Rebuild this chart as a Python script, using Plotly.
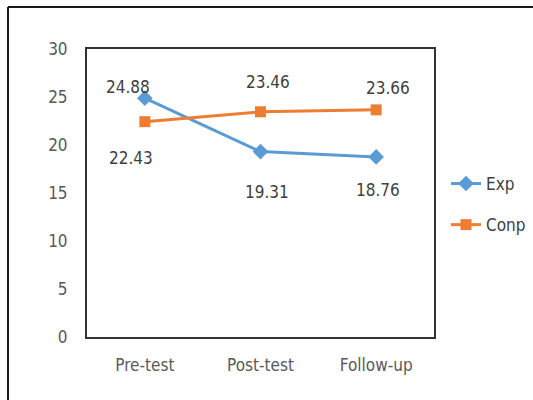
import plotly.graph_objects as go

categories = ["Pre-test", "Post-test", "Follow-up"]
exp_values = [24.88, 19.31, 18.76]
conp_values = [22.43, 23.46, 23.66]
y_ticks = [0, 5, 10, 15, 20, 25, 30]

# label offsets (pixels) for the data labels
exp_label_shift = [(-17, 11), (6, -40), (2, -33)]
conp_label_shift = [(-14, -36), (7, 30), (12, 22)]

FONT = "Liberation Sans Narrow, DejaVu Sans Condensed, Arial Narrow, sans-serif"
BLUE = "#5B9BD5"
ORANGE = "#ED7D31"

fig = go.Figure()
fig.add_trace(go.Scatter(
    x=categories, y=exp_values, name="Exp", mode="lines+markers",
    line=dict(color=BLUE, width=3),
    marker=dict(symbol="diamond", size=12, color=BLUE),
    legendgroup="a",
))
fig.add_trace(go.Scatter(
    x=categories, y=conp_values, name="Conp", mode="lines+markers",
    line=dict(color=ORANGE, width=3),
    marker=dict(symbol="square", size=11, color=ORANGE),
    legendgroup="b",
))

for vals, shifts in ((exp_values, exp_label_shift), (conp_values, conp_label_shift)):
    for c, v, (dx, dy) in zip(categories, vals, shifts):
        fig.add_annotation(x=c, y=v, text=f"{v:.2f}", showarrow=False,
                           xshift=dx, yshift=dy,
                           font=dict(family=FONT, size=17, color="#404040"))

# outer border (top and left only visible)
fig.add_shape(type="line", xref="paper", yref="paper",
              x0=(8 - 87) / 347, x1=(540 - 87) / 347,
              y0=(337 - 7) / 288, y1=(337 - 7) / 288,
              line=dict(color="#1a1a1a", width=2))
fig.add_shape(type="line", xref="paper", yref="paper",
              x0=(8 - 87) / 347, x1=(8 - 87) / 347,
              y0=(337 - 7) / 288, y1=(337 - 400) / 288,
              line=dict(color="#1a1a1a", width=2))

fig.update_layout(
    width=533, height=400,
    margin=dict(l=87, r=99, t=49, b=63, autoexpand=False),
    paper_bgcolor="white", plot_bgcolor="white",
    font=dict(family=FONT, size=17, color="#595959"),
    showlegend=True,
    legend=dict(xref="container", yref="container",
                x=446 / 533, y=0.585, xanchor="left", yanchor="top",
                traceorder="grouped", tracegroupgap=16,
                font=dict(family=FONT, size=17, color="#404040"),
                itemwidth=30),
    xaxis=dict(type="category", range=[-0.5, 2.5], showgrid=False,
               showline=True, linecolor="#333333", linewidth=2, mirror=True,
               ticks="", tickfont=dict(family=FONT, size=17, color="#595959"),
               ticklabelstandoff=12),
    yaxis=dict(range=[0, 30], tickvals=y_ticks, showgrid=False,
               showline=True, linecolor="#333333", linewidth=2, mirror=True,
               ticks="", zeroline=False,
               tickfont=dict(family=FONT, size=17, color="#595959"),
               ticklabelstandoff=14),
)

fig.write_html("out.html")
